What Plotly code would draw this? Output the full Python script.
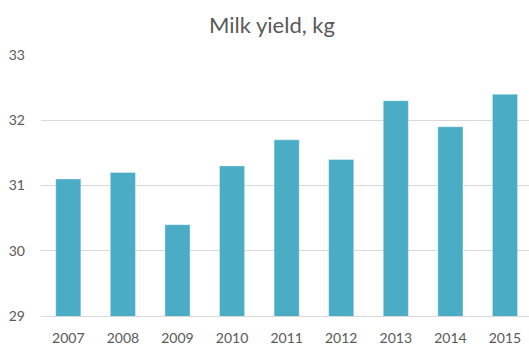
import plotly.graph_objects as go

# Average milk yield per year
years = ["2007", "2008", "2009", "2010", "2011", "2012", "2013", "2014", "2015"]
milk_yield = [31.1, 31.2, 30.4, 31.3, 31.7, 31.4, 32.3, 31.9, 32.4]
y_ticks = [29, 30, 31, 32, 33]

W, H = 529, 345
text_color = "#595959"
grid_color = "#D9D9D9"
bar_color = "#4BACC6"

fig = go.Figure(
    go.Bar(
        x=list(range(len(years))),
        y=milk_yield,
        marker=dict(color=bar_color, line=dict(color="rgba(255,255,255,0.35)", width=1)),
        width=0.46,
        hoverinfo="x+y",
    )
)

fig.update_layout(
    width=W,
    height=H,
    margin=dict(l=41, r=0, t=55, b=29),
    paper_bgcolor="white",
    plot_bgcolor="white",
    showlegend=False,
    font=dict(family="Lato, 'Open Sans', sans-serif", size=14, color=text_color),
    title=dict(
        text="Milk yield, kg",
        x=272 / W,
        xanchor="center",
        y=1 - 25 / H,
        yanchor="middle",
        font=dict(size=22, color=text_color),
    ),
)

fig.update_xaxes(
    tickmode="array",
    tickvals=list(range(len(years))),
    ticktext=years,
    range=[-0.5, 8.44],
    showgrid=False,
    zeroline=False,
    showline=True,
    linecolor=grid_color,
    linewidth=1,
    ticks="",
    ticklabelstandoff=9,
    tickfont=dict(size=14, color=text_color),
)

fig.update_yaxes(
    range=[29, 33],
    tickvals=y_ticks,
    showgrid=True,
    gridcolor=grid_color,
    gridwidth=1,
    zeroline=False,
    showline=False,
    ticks="",
    ticklabelstandoff=15,
    tickfont=dict(size=14, color=text_color),
)

fig.write_html("out.html")
